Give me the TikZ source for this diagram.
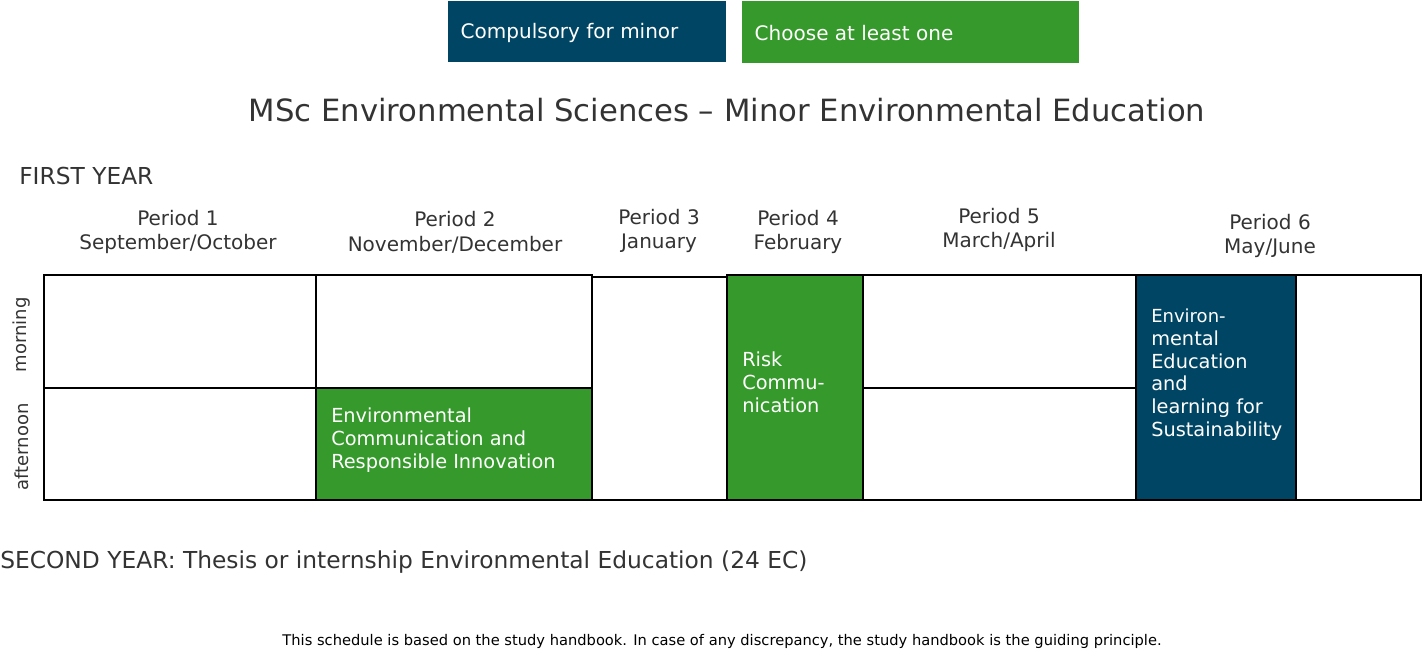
\documentclass[tikz,border=0pt]{standalone}
\usepackage{fontspec}
\setmainfont{DejaVu Sans}
\definecolor{dblue}{HTML}{004563}
\definecolor{dgreen}{HTML}{359A2B}
\definecolor{txt}{HTML}{333333}
\begin{document}
\begin{tikzpicture}[x=0.75pt,y=-0.75pt,
  cell/.style={draw=black,line width=0.8pt},
  lab/.style={anchor=north west,align=left,text=white,font=\fontsize{14.5}{17}\selectfont,inner sep=0pt},
  per/.style={align=center,font=\fontsize{15}{18.5}\selectfont,text=txt,inner sep=0pt}]
\useasboundingbox (0,0) rectangle (1422,651);
% legend
\fill[dblue] (448,1) rectangle (726,62);
\node[anchor=west,text=white,font=\fontsize{15}{18}\selectfont] (l1) at (456,33) {Compulsory for minor};
\fill[dgreen] (742,1) rectangle (1079,63);
\node[anchor=west,text=white,font=\fontsize{15}{18}\selectfont] (l2) at (750,33) {Choose at least one};
\node[text=txt,font=\fontsize{23}{27}\selectfont] (title) at (727,110) {MSc Environmental Sciences – Minor Environmental Education};
\node[anchor=west,text=txt,font=\fontsize{17.5}{21}\selectfont,inner sep=0pt] (fy) at (19,176) {FIRST YEAR};
% periods
\node[per] (p1) at (178,232) {Period 1\\September/October};
\node[per] (p2) at (455,232) {Period 2\\November/December};
\node[per] (p3) at (659,231) {Period 3\\January};
\node[per] (p4) at (798,232) {Period 4\\February};
\node[per] (p5) at (999,230) {Period 5\\March/April};
\node[per] (p6) at (1270,236) {Period 6\\May/June};
% grid
\draw[cell] (44,275) rectangle (316,388);
\draw[cell] (44,388) rectangle (316,500);
\draw[cell] (316,275) rectangle (592,388);
\filldraw[cell,fill=dgreen] (316,388) rectangle (592,500);
\draw[cell] (592,277) rectangle (727,500);
\draw[cell] (863,275) rectangle (1136,388);
\draw[cell] (863,388) rectangle (1136,500);
\draw[cell] (1296,275) rectangle (1421,500);
\filldraw[cell,fill=dgreen] (727,275) rectangle (863,500);
\filldraw[cell,fill=dblue] (1136,275) rectangle (1296,500);
\node[lab] (b1) at (331,408) {Environmental\\Communication and\\Responsible Innovation};
\node[lab] (b2) at (742,352) {Risk\\Commu-\\nication};
\node[lab] (b3) at (1151,309) {\fontsize{13.5}{16.9}\selectfont Environ-\\mental\\Education\\and\\learning for\\Sustainability};
\node[rotate=90,font=\fontsize{13.5}{16}\selectfont,text=txt] (mo) at (22,335) {morning};
\node[rotate=90,font=\fontsize{13.5}{16}\selectfont,text=txt] (af) at (22,447) {afternoon};
\node[anchor=west,text=txt,font=\fontsize{17.5}{21}\selectfont,inner sep=0pt] (sy) at (0,562) {SECOND YEAR: Thesis or internship Environmental Education (24 EC)};
\node[font=\fontsize{11}{13}\selectfont] (ft) at (722,641) {This schedule is based on the study handbook. In case of any discrepancy, the study handbook is the guiding principle.};
\end{tikzpicture}
\end{document}
